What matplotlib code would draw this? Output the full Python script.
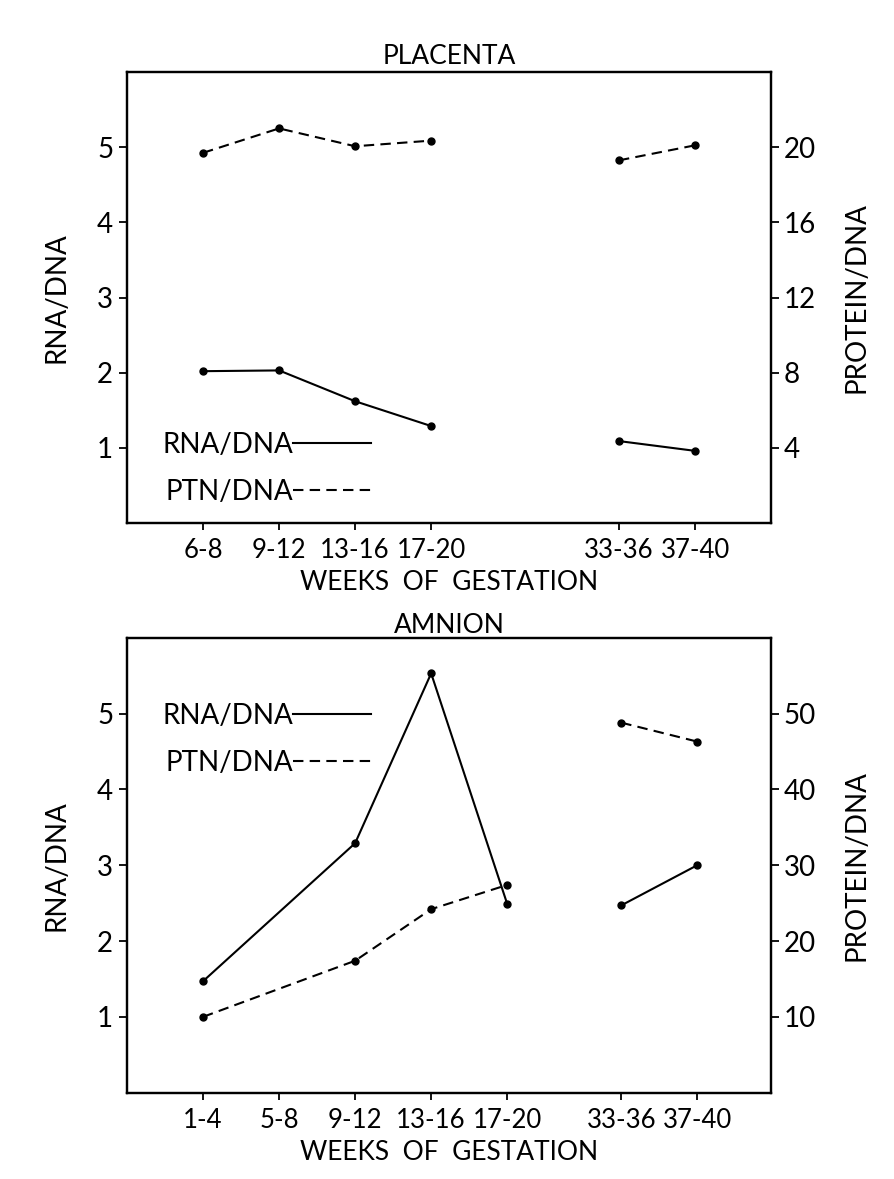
import matplotlib
matplotlib.use("Agg")
import matplotlib.pyplot as plt
from matplotlib.lines import Line2D

plt.rcParams.update({
    "font.family": ["Lato", "DejaVu Sans"],
    "font.size": 20,
    "axes.linewidth": 1.6,
    "xtick.direction": "out",
    "ytick.direction": "out",
    "xtick.major.size": 5,
    "ytick.major.size": 6,
    "xtick.major.width": 1.3,
    "ytick.major.width": 1.3,
})

# --- data -------------------------------------------------------------------
# placenta
plac_weeks = ["6-8", "9-12", "13-16", "17-20", "33-36", "37-40"]
plac_pos = [1, 2, 3, 4, 6.47, 7.47]          # gap between 17-20 and 33-36
plac_rna = [2.02, 2.03, 1.62, 1.29, 1.09, 0.96]
plac_ptn = [19.7, 21.0, 20.05, 20.35, 19.3, 20.1]

# amnion (no sample at 5-8 weeks)
amn_weeks = ["1-4", "5-8", "9-12", "13-16", "17-20", "33-36", "37-40"]
amn_pos = [1, 2, 3, 4, 5, 6.5, 7.5]
amn_rna_x = [1, 3, 4, 5, 6.5, 7.5]
amn_rna = [1.47, 3.29, 5.53, 2.49, 2.47, 3.0]
amn_ptn_x = [1, 3, 4, 5, 6.5, 7.5]
amn_ptn = [10.0, 17.4, 24.2, 27.4, 48.8, 46.3]

DASH = (0, (5, 3))
LW = 1.5
MS = 5


def split(xs, ys, cut=5.5):
    """two segments: early weeks and term weeks"""
    a = [(x, y) for x, y in zip(xs, ys) if x < cut]
    b = [(x, y) for x, y in zip(xs, ys) if x >= cut]
    return [list(zip(*a)), list(zip(*b))]


def panel(ax, title, pos, labels, rx, rna, px, ptn, ptn_top, ptn_ticks,
          legend_y, title_pad):
    ax2 = ax.twinx()
    for seg in split(rx, rna):
        ax.plot(seg[0], seg[1], "-", color="black", lw=LW,
                marker="o", ms=MS)
    for seg in split(px, ptn):
        ax2.plot(seg[0], seg[1], linestyle=DASH, color="black", lw=LW,
                 marker="o", ms=MS)

    ax.set_xlim(0, 8.47)
    ax.set_ylim(0, 6)
    ax2.set_ylim(0, ptn_top)
    ax.set_xticks(pos)
    ax.set_xticklabels(labels, fontsize=18.5)
    ax.set_yticks([1, 2, 3, 4, 5])
    ax2.set_yticks(ptn_ticks)
    ax.tick_params(axis="x", pad=6)
    ax.tick_params(axis="y", pad=4)
    ax2.tick_params(axis="y", pad=3)

    ax.set_title(title, fontsize=19, pad=title_pad)
    ax.set_xlabel("WEEKS  OF  GESTATION", fontsize=19, labelpad=5)
    ax.set_ylabel("RNA/DNA", fontsize=20)
    ax.yaxis.set_label_coords(-0.089, 0.5)
    ax2.set_ylabel("PROTEIN/DNA", fontsize=20, rotation=90)
    ax2.yaxis.set_label_coords(1.112, 0.5)

    handles = [Line2D([], [], color="black", lw=LW),
               Line2D([], [], color="black", lw=LW, linestyle=DASH)]
    ax.legend(handles, ["RNA/DNA", "PTN/DNA"], markerfirst=False,
              frameon=False, handlelength=2.8, handletextpad=0.0,
              labelspacing=0.75, fontsize=20, borderaxespad=0,
              loc="center left", bbox_to_anchor=(0.038, legend_y))
    return ax2


fig = plt.figure(figsize=(8.95, 11.79), dpi=100)
ax_top = fig.add_axes([0.1419, 0.5564, 0.7196, 0.3825])
ax_bot = fig.add_axes([0.1419, 0.0732, 0.7196, 0.3859])

panel(ax_top, "PLACENTA", plac_pos, plac_weeks,
      plac_pos, plac_rna, plac_pos, plac_ptn,
      24, [4, 8, 12, 16, 20], 0.121, 6)
panel(ax_bot, "AMNION", amn_pos, amn_weeks,
      amn_rna_x, amn_rna, amn_ptn_x, amn_ptn,
      60, [10, 20, 30, 40, 50], 0.777, 3)

fig.savefig("out.png", dpi=100)
